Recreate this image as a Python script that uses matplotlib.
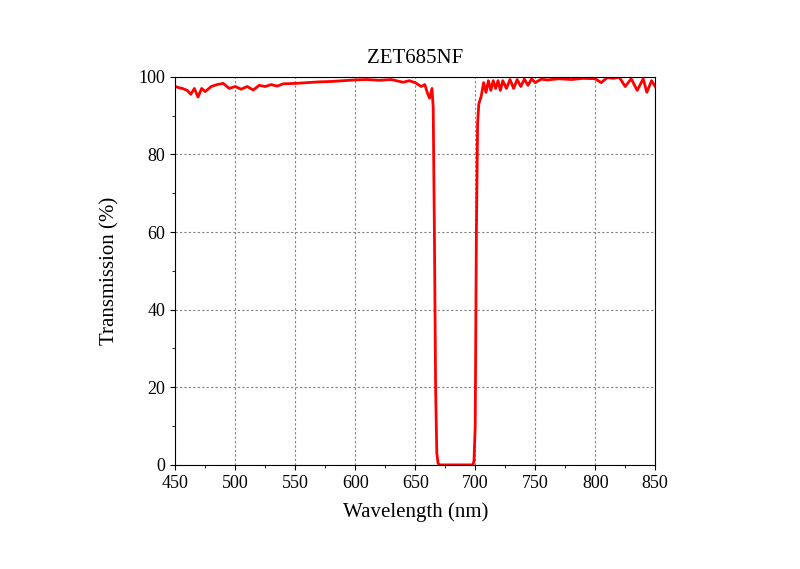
import matplotlib.pyplot as plt
from matplotlib.ticker import MultipleLocator

wavelength = [450, 453, 456, 460, 463, 466, 469, 472, 475, 480, 485, 490, 495, 500, 505, 510, 515,
              520, 525, 530, 535, 540, 550, 560, 570, 580, 590, 600, 610, 620, 630, 640, 645,
              650, 655, 658, 660, 662, 664, 665, 666, 667, 668, 669, 670, 698, 699, 700, 701,
              702, 703, 705, 707, 709, 711, 713, 715, 717, 719, 721, 723, 726, 729, 732, 735,
              738, 741, 744, 747, 750, 755, 760, 770, 780, 790, 800, 805, 810, 815, 820, 825,
              830, 835, 840, 843, 847, 850]
transmission = [97.5, 97.2, 97.0, 96.5, 95.5, 97.0, 94.8, 97.0, 96.2, 97.5, 98.0, 98.3, 97.0, 97.5,
                96.8, 97.5, 96.6, 97.8, 97.5, 98.0, 97.6, 98.2, 98.3, 98.5, 98.7, 98.8, 99.0, 99.2,
                99.3, 99.1, 99.3, 98.6, 99.0, 98.5, 97.5, 98.0, 96.0, 94.5, 97.0, 92.0, 60.0, 20.0,
                3.0, 0.5, 0.0, 0.0, 1.0, 10.0, 60.0, 88.0, 93.0, 95.0, 98.5, 96.0, 99.0, 96.5,
                99.0, 97.0, 99.0, 96.5, 99.0, 97.0, 99.3, 97.0, 99.3, 97.5, 99.4, 97.8, 99.5,
                98.5, 99.4, 99.2, 99.5, 99.3, 99.6, 99.5, 98.5, 99.8, 99.6, 99.9, 97.5, 99.5,
                96.5, 99.5, 96.0, 99.0, 97.5]

plt.rcParams['font.family'] = ['Liberation Serif', 'DejaVu Serif']
fig = plt.figure(figsize=(8, 5.69), dpi=100)
ax = fig.add_axes([0.219, 0.183, 0.6, 0.682])
ax.plot(wavelength, transmission, color='red', lw=2)
ax.set_xlim(450, 850)
ax.set_ylim(0, 100)
ax.xaxis.set_major_locator(MultipleLocator(50))
ax.yaxis.set_major_locator(MultipleLocator(20))
ax.yaxis.set_minor_locator(MultipleLocator(10))
ax.xaxis.set_minor_locator(MultipleLocator(25))
ax.tick_params(labelsize=13)
ax.grid(True, which='major', color='grey', linestyle=(0, (2, 2)), lw=0.8)
ax.set_xlabel('Wavelength (nm)', fontsize=15, labelpad=8)
ax.set_ylabel('Transmission (%)', fontsize=15, labelpad=14)
ax.set_title('ZET685NF', fontsize=15, pad=10)
fig.savefig('out.png')
